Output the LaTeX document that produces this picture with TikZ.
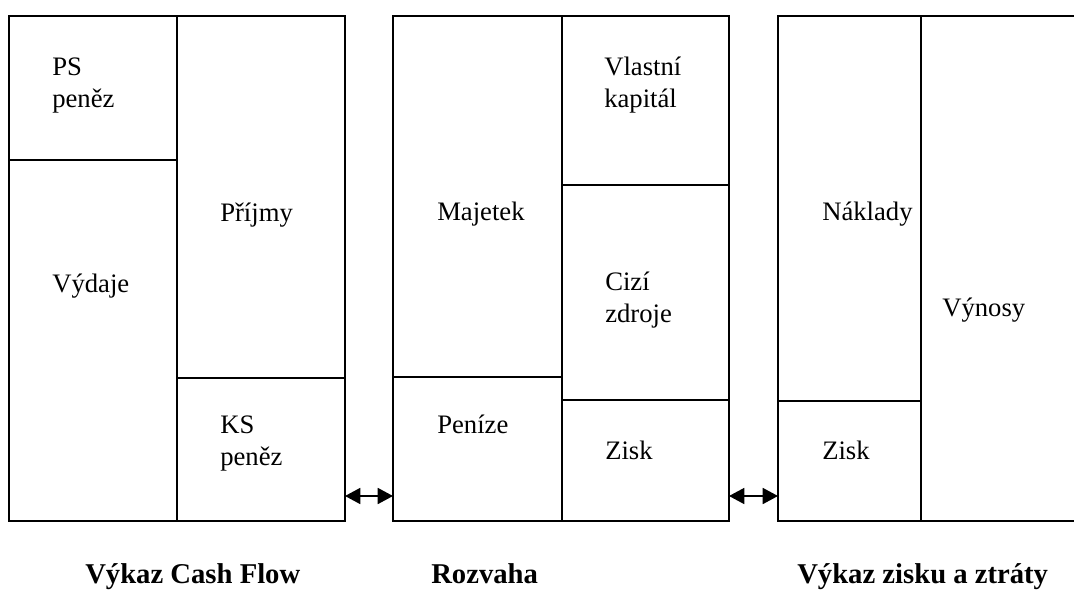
\documentclass[tikz,border=0pt]{standalone}
\usepackage{fontspec}
\setmainfont{Liberation Serif}
\usetikzlibrary{arrows.meta}
\usetikzlibrary{positioning}

\begin{document}
\begin{tikzpicture}[x=0.75pt,y=-0.75pt]
\tikzstyle{bunka}=[draw,line width=1.3pt]
\tikzstyle{popis}=[anchor=base west,inner sep=0pt,align=left,
        font=\fontsize{20}{24}\selectfont]
\tikzstyle{nadpis}=[anchor=base west,inner sep=0pt,
        font=\fontsize{21.5}{25}\selectfont\bfseries]
%styl sipek
\tikzstyle{vazba}=[{Triangle[length=11.5pt,width=12pt]}-{Triangle[length=11.5pt,width=12pt]},
        line width=1.3pt]
\useasboundingbox (0,0) rectangle (1074,589);
%vykaz cash flow
\draw[bunka] (9,16) rectangle (177,521);
\draw[bunka] (177,16) rectangle (345,521);
\draw[bunka] (9,160) -- (177,160);
\draw[bunka] (177,378) -- (345,378);
%rozvaha
\draw[bunka] (393,16) rectangle (562,521);
\draw[bunka] (562,16) rectangle (729,521);
\draw[bunka] (393,377) -- (562,377);
\draw[bunka] (562,185) -- (729,185);
\draw[bunka] (562,400) -- (729,400);
%vykaz zisku a ztraty
\draw[bunka] (1074,16) -- (778,16) -- (778,521) -- (1074,521);
\draw[bunka] (921,16) -- (921,521);
\draw[bunka] (778,401) -- (921,401);
%popisky (base = posledni radek)
\node[popis] (psPenez) at (52,107) {PS\\peněz};
\node[popis] (vydaje) at (52,292) {Výdaje};
\node[popis] (prijmy) at (220,221) {Příjmy};
\node[popis] (ksPenez) at (220,465) {KS\\peněz};
\node[popis] (majetek) at (437,220) {Majetek};
\node[popis] (penize) at (437,433) {Peníze};
\node[popis] (vlastni) at (604,107) {Vlastní\\kapitál};
\node[popis] (cizi) at (605,322) {Cizí\\zdroje};
\node[popis] (ziskR) at (605,459) {Zisk};
\node[popis] (naklady) at (822,220) {Náklady};
\node[popis] (ziskV) at (822,459) {Zisk};
\node[popis] (vynosy) at (942,316) {Výnosy};
%nadpisy
\node[nadpis] (cashflow) at (85,583) {Výkaz Cash Flow};
\node[nadpis] (rozvaha) at (431,583) {Rozvaha};
\node[nadpis] (vzz) at (797,583) {Výkaz zisku a ztráty};
%sipky
\coordinate (cfKraj) at (345,496);
\coordinate (rozL) at (393,496);
\coordinate (rozP) at (729,496);
\coordinate (vzzKraj) at (778,496);
\draw[vazba] (cfKraj) -- (rozL);
\draw[vazba] (rozP) -- (vzzKraj);
\end{tikzpicture}
\end{document}
